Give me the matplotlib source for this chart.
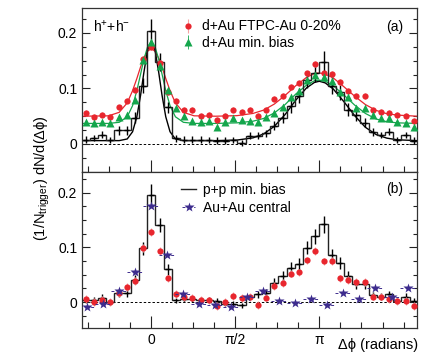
import numpy as np
import matplotlib
matplotlib.use('Agg')
import matplotlib.pyplot as plt
from matplotlib.ticker import FixedLocator, MultipleLocator

plt.rcParams['font.family'] = ['Liberation Sans', 'DejaVu Sans']
plt.rcParams['mathtext.fontset'] = 'custom'
plt.rcParams['mathtext.rm'] = 'Liberation Sans'
plt.rcParams['mathtext.it'] = 'Liberation Sans:italic'

# binning: 41 bins over 2pi, centred on 0 (d+Au and p+p); 21 bins for Au+Au
bin_w = 2 * np.pi / 41
phi = (np.arange(41) - 8) * bin_w
edges = np.append(phi - bin_w / 2, phi[-1] + bin_w / 2)
bin_w_auau = 2 * np.pi / 21
phi_auau = (np.arange(21) - 4) * bin_w_auau

# ---- panel (a) ----
dau_central = [0.056, 0.049, 0.053, 0.049, 0.066, 0.078, 0.097, 0.153, 0.174, 0.146,
               0.093, 0.077, 0.061, 0.061, 0.050, 0.053, 0.043, 0.050, 0.062, 0.058,
               0.061, 0.050, 0.061, 0.081, 0.086, 0.103, 0.110, 0.127, 0.144, 0.127,
               0.126, 0.112, 0.096, 0.086, 0.086, 0.061, 0.058, 0.056, 0.052, 0.050, 0.042]
dau_minbias = [0.040, 0.037, 0.040, 0.037, 0.049, 0.053, 0.080, 0.151, 0.184, 0.141,
               0.097, 0.064, 0.050, 0.042, 0.040, 0.042, 0.031, 0.040, 0.046, 0.043,
               0.042, 0.040, 0.049, 0.055, 0.066, 0.084, 0.096, 0.115, 0.125, 0.121,
               0.113, 0.094, 0.084, 0.065, 0.065, 0.052, 0.046, 0.046, 0.040, 0.037, 0.031]
pp_a = [0.008, 0.011, 0.017, 0.007, 0.025, 0.025, 0.047, 0.105, 0.204, 0.148,
        0.066, 0.010, 0.008, 0.008, 0.008, 0.007, 0.006, 0.006, 0.007, 0.002,
        0.015, 0.015, 0.019, 0.033, 0.047, 0.068, 0.087, 0.115, 0.127, 0.148,
        0.105, 0.093, 0.062, 0.052, 0.038, 0.022, 0.016, 0.022, 0.007, 0.016, 0.006]
pp_a_err = [0.006, 0.006, 0.006, 0.006, 0.008, 0.008, 0.010, 0.014, 0.022, 0.016,
            0.010, 0.006, 0.006, 0.006, 0.006, 0.006, 0.006, 0.006, 0.006, 0.006,
            0.006, 0.006, 0.007, 0.008, 0.010, 0.012, 0.013, 0.015, 0.016, 0.019,
            0.015, 0.014, 0.012, 0.010, 0.008, 0.007, 0.006, 0.006, 0.006, 0.006, 0.006]

fit_x = [-1.29, -0.8, -0.6, -0.45, -0.35, -0.27, -0.2, -0.14, -0.07, 0.0, 0.07, 0.14,
         0.2, 0.27, 0.35, 0.45, 0.6, 0.8, 1.2, 1.6, 1.9, 2.1, 2.3, 2.5, 2.7, 2.9,
         3.05, 3.14, 3.25, 3.4, 3.6, 3.8, 4.0, 4.2, 4.4, 4.6, 4.97]
fit_pp = [0.006, 0.006, 0.006, 0.009, 0.022, 0.049, 0.088, 0.128, 0.169, 0.185, 0.169, 0.128,
          0.088, 0.049, 0.022, 0.009, 0.006, 0.006, 0.006, 0.007, 0.011, 0.018, 0.032, 0.053,
          0.079, 0.101, 0.111, 0.113, 0.110, 0.099, 0.076, 0.051, 0.030, 0.017, 0.0105, 0.0075, 0.006]
fit_central = [0.050, 0.0507, 0.057, 0.074, 0.096, 0.118, 0.139, 0.154, 0.167, 0.172, 0.167, 0.154,
               0.139, 0.118, 0.096, 0.074, 0.057, 0.0507, 0.050, 0.051, 0.055, 0.061, 0.072, 0.0875,
               0.105, 0.120, 0.127, 0.128, 0.126, 0.119, 0.103, 0.086, 0.071, 0.0605, 0.0545, 0.052, 0.050]
fit_minbias = [0.037, 0.037, 0.039, 0.049, 0.069, 0.096, 0.126, 0.152, 0.175, 0.184, 0.175, 0.152,
               0.126, 0.096, 0.069, 0.049, 0.039, 0.037, 0.037, 0.038, 0.041, 0.046, 0.056, 0.071,
               0.090, 0.106, 0.114, 0.115, 0.113, 0.105, 0.088, 0.070, 0.055, 0.045, 0.040, 0.038, 0.037]

# ---- panel (b) ----
pp_b = [0.004, 0.004, 0.008, 0.000, 0.017, 0.017, 0.041, 0.098, 0.195, 0.141,
        0.060, 0.003, 0.005, 0.005, 0.004, 0.004, 0.002, -0.003, -0.003, -0.006,
        0.010, 0.014, 0.017, 0.035, 0.047, 0.063, 0.069, 0.099, 0.120, 0.142,
        0.085, 0.071, 0.047, 0.032, 0.032, 0.012, 0.010, 0.014, 0.002, 0.010, 0.002]
pp_b_err = [0.006, 0.006, 0.006, 0.006, 0.007, 0.007, 0.009, 0.012, 0.020, 0.013,
            0.010, 0.005, 0.005, 0.005, 0.005, 0.005, 0.005, 0.005, 0.005, 0.005,
            0.005, 0.006, 0.006, 0.008, 0.009, 0.010, 0.011, 0.012, 0.014, 0.016,
            0.012, 0.011, 0.010, 0.009, 0.008, 0.007, 0.006, 0.006, 0.006, 0.006, 0.006]
dau_sub = [0.006, 0.000, 0.004, 0.000, 0.016, 0.028, 0.038, 0.099, 0.128, 0.094,
           0.043, 0.015, 0.009, 0.008, 0.004, 0.003, -0.007, 0.000, 0.011, 0.007,
           0.009, -0.005, 0.008, 0.029, 0.035, 0.052, 0.054, 0.076, 0.093, 0.074,
           0.075, 0.043, 0.040, 0.036, 0.036, 0.010, 0.010, 0.006, 0.002, 0.002, -0.007]
auau_central = [-0.010, -0.004, 0.020, 0.054, 0.176, 0.085, 0.015, -0.004, -0.005, -0.009,
                0.010, 0.020, 0.001, -0.001, 0.006, -0.006, 0.017, 0.005, 0.025, 0.010, 0.025]

red = '#e8262e'
red_err = '#f5a3a3'
green = '#14a64c'
purple = '#3d2c8d'

fig = plt.figure(figsize=(4.43, 3.64), dpi=100)
ax1 = fig.add_axes([0.1851, 0.5283, 0.7569, 0.4497])
ax2 = fig.add_axes([0.1851, 0.0981, 0.7569, 0.4302])

for ax in (ax1, ax2):
    ax.axhline(0, color='k', lw=0.7, ls=(0, (2.5, 2.0)), zorder=1)

# (a)
ax1.plot(fit_x, fit_central, color=red, lw=0.9, zorder=2)
ax1.plot(fit_x, fit_minbias, color=green, lw=0.9, zorder=2)
ax1.plot(fit_x, fit_pp, color='k', lw=1.0, zorder=2)
ax1.stairs(pp_a, edges, baseline=None, color='#222222', lw=1.0, zorder=3)
ax1.errorbar(phi, pp_a, yerr=pp_a_err, xerr=bin_w * 0.3, fmt='none',
             ecolor='k', elinewidth=1.0, capsize=0, zorder=3)
ax1.errorbar(phi, dau_central, yerr=0.005, fmt='o', ms=4.5, color=red, mec='none',
             ecolor=red_err, elinewidth=0.8, capsize=0, zorder=4,
             label='d+Au FTPC-Au 0-20%')
ax1.errorbar(phi, dau_minbias, yerr=0.003, fmt='^', ms=6, color=green, mec='none',
             ecolor=green, elinewidth=0.6, capsize=0, zorder=5,
             label='d+Au min. bias')

# (b)
ax2.stairs(pp_b, edges, baseline=None, color='#222222', lw=1.0, zorder=3,
           label='p+p min. bias')
ax2.errorbar(phi, pp_b, yerr=pp_b_err, xerr=bin_w * 0.3, fmt='none',
             ecolor='k', elinewidth=1.0, capsize=0, zorder=3)
ax2.errorbar(phi, dau_sub, yerr=0.007, fmt='o', ms=4.5, color=red, mec='none',
             ecolor=red_err, elinewidth=0.8, capsize=0, zorder=4)
eb = ax2.errorbar(phi_auau, auau_central, xerr=bin_w_auau / 2, fmt='*', ms=7,
                  color=purple, mec='none', ecolor=purple, elinewidth=0.7,
                  capsize=0, zorder=5, label='Au+Au central')
eb[2][0].set_linestyle((0, (3, 3)))

for ax in (ax1, ax2):
    ax.set_xlim(-1.295, 4.97)
    ax.xaxis.set_major_locator(FixedLocator([0, np.pi / 2, np.pi]))
    ax.xaxis.set_minor_locator(FixedLocator(np.arange(-3, 13) * np.pi / 8))
    ax.yaxis.set_major_locator(FixedLocator([0, 0.1, 0.2]))
    ax.yaxis.set_minor_locator(MultipleLocator(0.025))
    ax.tick_params(which='both', direction='in', left=True, right=True,
                   top=False, bottom=True, labelsize=10, width=0.8, colors='#222222',
                   labelcolor='k')
    ax.tick_params(axis='x', which='major', length=9)
    ax.tick_params(axis='x', which='minor', length=4.5)
    ax.tick_params(axis='y', which='major', length=6)
    ax.tick_params(axis='y', which='minor', length=3)
    ax.set_yticklabels(['0', '0.1', '0.2'])
    for s in ax.spines.values():
        s.set_linewidth(0.9)
        s.set_color('#333333')

ax1.set_ylim(-0.05, 0.245)
ax2.set_ylim(-0.048, 0.238)
ax1.set_xticklabels([])
ax2.set_xticklabels(['0', 'π/2', 'π'])

ax1.legend(loc='upper left', bbox_to_anchor=(0.295, 0.93), frameon=False,
           fontsize=10, handlelength=1.0, handletextpad=0.5, labelspacing=0.15,
           borderpad=0, borderaxespad=0)
ax2.legend(loc='upper left', bbox_to_anchor=(0.295, 0.93), frameon=False,
           fontsize=10, handlelength=1.1, handletextpad=0.5, labelspacing=0.3,
           borderpad=0, borderaxespad=0)

ax1.text(0.033, 0.884, r'h$^{+}$+h$^{-}$', transform=ax1.transAxes,
         fontsize=10, va='center', ha='left')
ax1.text(0.933, 0.884, '(a)', transform=ax1.transAxes, fontsize=10,
         va='center', ha='center')
ax2.text(0.933, 0.89, '(b)', transform=ax2.transAxes, fontsize=10,
         va='center', ha='center')

fig.text(0.095, 0.511, r'(1/N$_{\rm trigger}$) dN/d(Δϕ)', rotation=90,
         fontsize=10.5, ha='center', va='center')
fig.text(0.944, 0.052, 'Δϕ (radians)', fontsize=10.5, ha='right', va='center')

fig.savefig('out.png', dpi=100)
